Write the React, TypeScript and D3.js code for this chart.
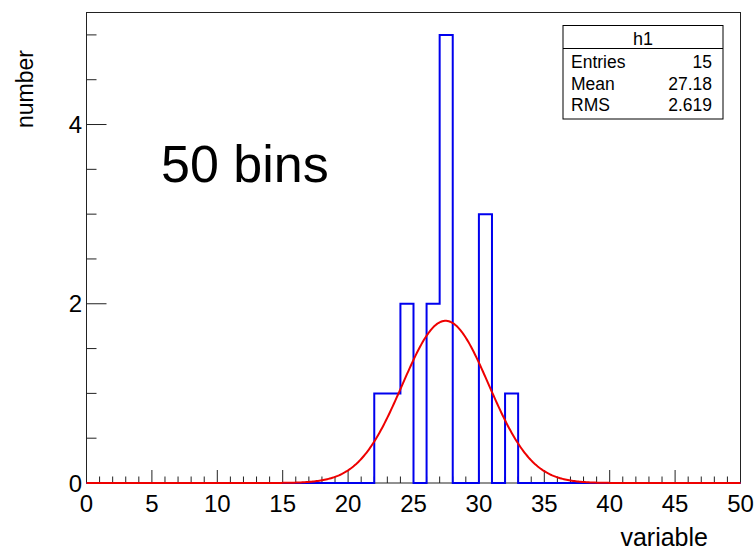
import React from "react";
import * as d3 from "d3";

const binLows = [22, 23, 24, 26, 27, 30, 32];
const binCounts = [1, 1, 2, 2, 5, 3, 1];
const nBins = 50;
const xMin = 0;
const xMax = 50;
const yMax = 5.25;
const xTicks = [0, 5, 10, 15, 20, 25, 30, 35, 40, 45, 50];
const yTicks = [0, 2, 4];
const fitConst = 1.81;
const fitMean = 27.45;
const fitSigma = 3.3;
const statsTitle = "h1";
const statsLabels = ["Entries", "Mean", "RMS"];
const statsValues = ["15", "27.18", "2.619"];

const W = 756;
const H = 552;
const FONT = "'Liberation Sans', Arial, Helvetica, sans-serif";

export default function App() {
  const left = 86.5, right = 740.5, top = 12.5, bottom = 483;
  const x = d3.scaleLinear().domain([xMin, xMax]).range([left, right]);
  const y = d3.scaleLinear().domain([0, yMax]).range([bottom, top]);

  const counts = new Array(nBins).fill(0);
  binLows.forEach((b, i) => { counts[b - xMin] = binCounts[i]; });
  const bw = (xMax - xMin) / nBins;

  // histogram outline
  const pts: [number, number][] = [[xMin, 0]];
  counts.forEach((c, i) => {
    const lo = xMin + i * bw;
    pts.push([lo, c]);
    pts.push([lo + bw, c]);
  });
  pts.push([xMax, 0]);
  const histPath = d3.line<[number, number]>().x(d => x(d[0])).y(d => y(d[1]))(pts) || "";

  const fx = d3.range(0, 500.5, 1).map(i => i / 10);
  const fitPts: [number, number][] = fx.map(v => [v, fitConst * Math.exp(-0.5 * ((v - fitMean) / fitSigma) ** 2)]);
  const fitPath = d3.line<[number, number]>().x(d => x(d[0])).y(d => y(d[1])).curve(d3.curveLinear)(fitPts) || "";

  const xMinor = d3.range(xMin, xMax + 0.001, 1);
  const yMinor = d3.range(0, 5.001, 0.5);

  const axisColor = "#222";

  return (
    <svg width={W} height={H} style={{ position: "absolute", left: 0, top: 0, background: "#fff" }}>
      <rect x={0} y={0} width={W} height={H} fill="#fff" />
      {/* frame */}
      <rect x={left} y={top} width={right - left} height={bottom - top} fill="none" stroke={axisColor} strokeWidth={1} />

      {/* x ticks */}
      {xMinor.map(v => {
        const major = xTicks.includes(v);
        return (
          <line key={"xt" + v} x1={x(v)} x2={x(v)} y1={bottom} y2={bottom - (major ? 13 : 6.5)} stroke={axisColor} strokeWidth={1} />
        );
      })}
      {/* y ticks */}
      {yMinor.map(v => {
        const major = yTicks.includes(v);
        return (
          <line key={"yt" + v} x1={left} x2={left + (major ? 20 : 10)} y1={y(v)} y2={y(v)} stroke={axisColor} strokeWidth={1} />
        );
      })}

      {/* histogram */}
      <path d={histPath} fill="none" stroke="#0000ee" strokeWidth={2} />
      {/* fit */}
      <path d={fitPath} fill="none" stroke="#ee0000" strokeWidth={2} />

      {/* x tick labels */}
      {xTicks.map(v => (
        <text key={"xl" + v} x={x(v)} y={512} textAnchor="middle" fontFamily={FONT} fontSize={24} fill="#000">{v}</text>
      ))}
      {/* y tick labels */}
      {yTicks.map(v => (
        <text key={"yl" + v} x={82} y={y(v) + 8.5} textAnchor="end" fontFamily={FONT} fontSize={24} fill="#000">{v}</text>
      ))}

      {/* axis titles */}
      <text x={708} y={546} textAnchor="end" fontFamily={FONT} fontSize={25} fill="#000">variable</text>
      <text transform={`translate(33,50) rotate(-90)`} textAnchor="end" fontFamily={FONT} fontSize={23} fill="#000">number</text>

      {/* annotation */}
      <text x={161} y={182} fontFamily={FONT} fontSize={52} fill="#000">50 bins</text>

      {/* stats box */}
      <rect x={563} y={25.5} width={160} height={93.5} fill="#fff" stroke="#000" strokeWidth={1} />
      <line x1={563} x2={723} y1={48.5} y2={48.5} stroke="#000" strokeWidth={1} />
      <text x={643} y={45} textAnchor="middle" fontFamily={FONT} fontSize={18} fill="#000">{statsTitle}</text>
      {statsLabels.map((l, i) => (
        <text key={"sl" + l} x={571} y={68 + i * 21.7} fontFamily={FONT} fontSize={17.5} fill="#000">{l}</text>
      ))}
      {statsValues.map((v, i) => (
        <text key={"sv" + i} x={712} y={68 + i * 21.7} textAnchor="end" fontFamily={FONT} fontSize={17.5} fill="#000">{v}</text>
      ))}
    </svg>
  );
}
